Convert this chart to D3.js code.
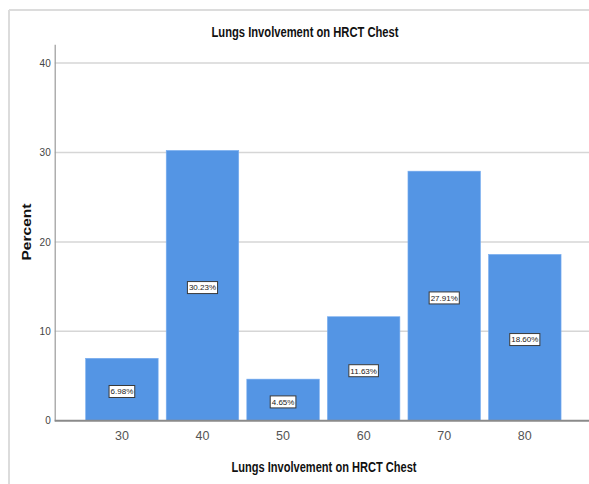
<!DOCTYPE html>
<html><head><meta charset="utf-8">
<script src="https://cdn.jsdelivr.net/npm/d3@7"></script>
<style>
html,body{margin:0;padding:0;background:#fff;}
svg{display:block;}
</style></head>
<body>
<script>
const categories = ["30","40","50","60","70","80"];
const percents = [6.98, 30.23, 4.65, 11.63, 27.91, 18.60];
const valueLabels = ["6.98%","30.23%","4.65%","11.63%","27.91%","18.60%"];
const yTicks = [0,10,20,30,40];
const chartTitle = "Lungs Involvement on HRCT Chest";
const xTitle = "Lungs Involvement on HRCT Chest";
const yTitle = "Percent";

const W = 589, H = 484;
const NARROW = "'Liberation Sans Narrow','Arial Narrow','Liberation Sans',Arial,sans-serif";
const svg = d3.select("body").append("svg").attr("width", W).attr("height", H);

// outer frame (top + left visible)
svg.append("line").attr("x1",9).attr("x2",W).attr("y1",10).attr("y2",10)
  .attr("stroke","#dcdcdc").attr("stroke-width",2);
svg.append("line").attr("x1",9).attr("x2",9).attr("y1",10).attr("y2",H)
  .attr("stroke","#dcdcdc").attr("stroke-width",2);

const x = d3.scaleBand().domain(categories).range([54.7, 592])
  .paddingInner(0.1).paddingOuter(0.384);
const y = d3.scaleLinear().domain([0, 42.1]).range([420.7, 44.3]);

// gridlines
svg.append("g").selectAll("line").data(yTicks.filter(d=>d>0)).join("line")
  .attr("x1",54.7).attr("x2",W).attr("y1",d=>y(d)).attr("y2",d=>y(d))
  .attr("stroke","#d6d6d6").attr("stroke-width",1.5);

// y axis
const yAxis = svg.append("g").attr("transform","translate(54.7,0)")
  .call(d3.axisLeft(y).tickValues(yTicks).tickSize(0).tickPadding(4));
yAxis.select(".domain").attr("stroke","#9a9a9a").attr("stroke-width",1.2);
yAxis.selectAll("text").attr("font-family",NARROW).attr("font-size",10).attr("fill","#444");

// bars
svg.append("g").selectAll("rect").data(categories).join("rect")
  .attr("x",d=>x(d)).attr("width",x.bandwidth())
  .attr("y",(d,i)=>y(percents[i])).attr("height",(d,i)=>y(0)-y(percents[i]))
  .attr("fill","#5495e4").attr("stroke","#7aaef0").attr("stroke-width",0.6);

// x axis
const xAxis = svg.append("g").attr("transform",`translate(0,${y(0)})`)
  .call(d3.axisBottom(x).tickSize(0).tickPadding(10));
xAxis.select(".domain").remove();
svg.append("line").attr("x1",54.7).attr("x2",W).attr("y1",y(0)).attr("y2",y(0))
  .attr("stroke","#8a8a8a").attr("stroke-width",2);
xAxis.selectAll("text").attr("font-family",NARROW).attr("font-size",12.5).attr("fill","#555");

// value labels
const lg = svg.append("g").selectAll("g").data(categories).join("g")
  .attr("transform",(d,i)=>`translate(${x(d)+x.bandwidth()/2},${(y(0)+y(percents[i]))/2+2})`);
lg.append("text").text((d,i)=>valueLabels[i])
  .attr("text-anchor","middle").attr("dy","0.35em")
  .attr("font-family",NARROW).attr("font-size",8).attr("fill","#222");
lg.each(function(){
  const g = d3.select(this);
  const bb = g.select("text").node().getBBox();
  g.insert("rect","text").attr("x",bb.x-1.5).attr("y",-6).attr("width",bb.width+3).attr("height",12)
    .attr("fill","#fff").attr("stroke","#3a3a3a").attr("stroke-width",1);
});

// titles
function fitText(sel, len){
  const w = sel.node().getComputedTextLength();
  if (Math.abs(w-len) > 2) sel.attr("textLength",len).attr("lengthAdjust","spacingAndGlyphs");
}
const t = svg.append("text").attr("x",305).attr("y",36.7).attr("text-anchor","middle")
  .attr("font-family",NARROW).attr("font-weight","bold").attr("font-size",14).attr("fill","#111")
  .text(chartTitle);
fitText(t,187);
const xt = svg.append("text").attr("x",324).attr("y",471.7).attr("text-anchor","middle")
  .attr("font-family",NARROW).attr("font-weight","bold").attr("font-size",14).attr("fill","#111")
  .text(xTitle);
fitText(xt,185);
const yt = svg.append("text").attr("transform","translate(31,232) rotate(-90)").attr("text-anchor","middle")
  .attr("font-family","'Liberation Sans',Arial,sans-serif").attr("font-weight","bold").attr("font-size",12).attr("fill","#111")
  .text(yTitle);
fitText(yt,57);
</script>
</body></html>
